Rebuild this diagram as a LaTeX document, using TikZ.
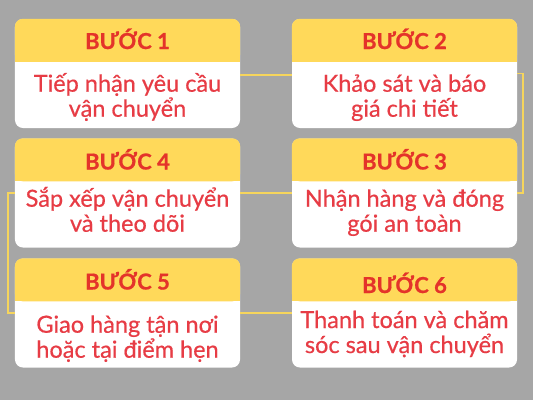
\documentclass[tikz,border=0pt]{standalone}
\usepackage{fontspec}
\setmainfont{Lato}
\newfontfamily\bodyfont[FakeBold=0.5]{Lato}
\newfontfamily\titlefont[BoldFeatures={FakeBold=0.8}]{Lato}
\newcommand\topstr{\rule{0pt}{26bp}}
\newcommand\botstr{\rule[-8bp]{0pt}{8bp}}
\lineskiplimit=-100bp
\definecolor{bg}{HTML}{A6A6A6}
\definecolor{hdr}{HTML}{FFD95A}
\definecolor{ttl}{HTML}{E4332A}
\definecolor{bdy}{HTML}{E73C45}
\definecolor{lnk}{HTML}{F6D55C}
\begin{document}
\begin{tikzpicture}[x=1bp,y=-1bp,
  stepbox/.style={fill=white,rounded corners=8bp,minimum width=225bp,minimum height=109bp,inner sep=0pt,draw=none},
  ttltext/.style={text=ttl,font=\fontsize{22bp}{24bp}\titlefont\bfseries,inner sep=0pt,anchor=base},
  bdytext/.style={text=bdy,font=\fontsize{23.5bp}{25bp}\bodyfont,align=center,inner sep=0pt},
  conn/.style={draw=lnk,line width=1.5bp}]
\useasboundingbox (0,0) rectangle (533,400);
\fill[bg] (0,0) rectangle (533,400);
\node[stepbox] (b1) at (127.5,73.5) {};
\node[stepbox] (b2) at (404.5,73.5) {};
\node[stepbox] (b4) at (127.5,193) {};
\node[stepbox] (b3) at (404.5,193) {};
\node[stepbox] (b5) at (127.5,313) {};
\node[stepbox] (b6) at (404.5,313) {};
% connectors
\draw[conn] ([yshift=-1.5bp]b1.east) -- ([yshift=-1.5bp]b2.west);
\draw[conn] (b2.east) -- ++(6,0) |- (b3.east);
\draw[conn] (b3.west) -- (b4.east);
\draw[conn] (b4.west) -- ++(-7,0) |- (b5.west);
\draw[conn] (b5.east) -- (b6.west);
% headers
\foreach \b in {b1,b2,b3,b4,b5,b6}{
  \fill[hdr,rounded corners=8bp] (\b.north west) rectangle ([yshift=-43bp]\b.north east);
  \fill[hdr] ([yshift=-33bp]\b.north west) rectangle ([yshift=-43bp]\b.north east);
}
% titles
\node[ttltext] (t1) at (127.5,49) {BƯỚC 1};
\node[ttltext] (t2) at (404.5,49) {BƯỚC 2};
\node[ttltext] (t4) at (127.5,169.5) {BƯỚC 4};
\node[ttltext] (t3) at (404.5,169.5) {BƯỚC 3};
\node[ttltext] (t5) at (127.5,289.5) {BƯỚC 5};
\node[ttltext] (t6) at (404.5,293) {BƯỚC 6};
% bodies
\node[bdytext] (d1) at (127.5,95.2) {\topstr Tiếp nhận yêu cầu\\vận chuyển\botstr};
\node[bdytext] (d2) at (404.5,95.2) {\topstr Khảo sát và báo\\giá chi tiết\botstr};
\node[bdytext] (d4) at (127.5,210.2) {\topstr Sắp xếp vận chuyển\\và theo dõi\botstr};
\node[bdytext] (d3) at (404.5,210.2) {\topstr Nhận hàng và đóng\\gói an toàn\botstr};
\node[bdytext] (d5) at (127.5,336.2) {\topstr Giao hàng tận nơi\\hoặc tại điểm hẹn\botstr};
\node[bdytext] (d6) at (404.5,331.5) {\topstr Thanh toán và chăm\\sóc sau vận chuyển\botstr};
\end{tikzpicture}
\end{document}
